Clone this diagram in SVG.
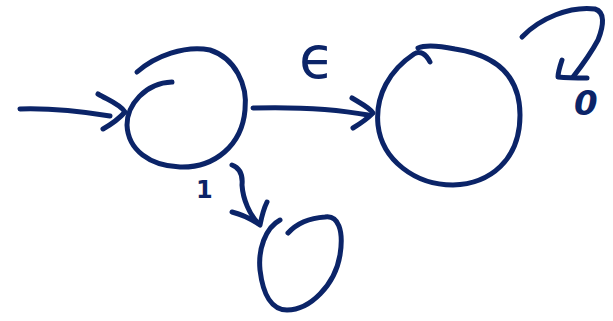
<svg xmlns="http://www.w3.org/2000/svg" width="613" height="321" viewBox="0 0 613 321">
<style>
.s{fill:none;stroke:#0b2468;stroke-width:5;stroke-linecap:round;stroke-linejoin:round}
.t{fill:#0b2468;font-family:"DejaVu Sans",sans-serif;font-weight:bold}
.e{fill:#0b2468;font-family:"DejaVu Sans",sans-serif;font-weight:normal;font-size:58px}
</style>
<rect width="613" height="321" fill="#fff"/>
<g id="q0"><path class="s" d="M137,72 C155,56 185,45 210,50 C235,58 248,85 245,110 C242,145 215,168 180,167 C150,166 128,150 127,125 C127,105 145,83 172,82"/></g>
<g id="q1"><path class="s" d="M430,62 C426,54 420,50 414,54 C390,70 375,95 378,125 C382,160 415,185 453,185 C490,184 520,160 520,115 C520,75 495,55 455,49 C440,46 425,45 418,48"/></g>
<g id="q2"><path class="s" d="M280,220 C265,228 258,250 260,270 C263,295 272,310 287,310 C310,310 335,285 340,255 C344,230 338,215 325,217 C310,218 298,222 288,233"/></g>
<g id="connectors">
<path class="s" d="M20,109 C50,108 85,112 110,116"/>
<path class="s" d="M98,94 C108,100 120,104 125,112 C118,120 110,125 103,129"/>
<path class="s" d="M253,108 C290,107 335,109 368,115"/>
<path class="s" d="M352,98 C362,104 370,108 373,113 C366,120 358,125 353,128"/>
<path class="s" d="M522,37 C540,18 570,6 595,9 C605,12 604,25 598,40 C590,55 580,68 573,77"/>
<path class="s" d="M562,60 C560,66 558,72 558,77 C568,78 578,78 587,78"/>
<path class="s" d="M232,165 C240,168 243,175 242,185 C243,200 250,215 258,223"/>
<path class="s" d="M232,212 C240,214 250,218 260,225 C262,215 264,208 267,202"/>
<text class="e" x="299" y="78">ϵ</text>
<text class="t" x="574" y="115" font-size="34" font-style="italic">0</text>
<text class="t" x="196" y="198" font-size="24">1</text>
</g>
</svg>
